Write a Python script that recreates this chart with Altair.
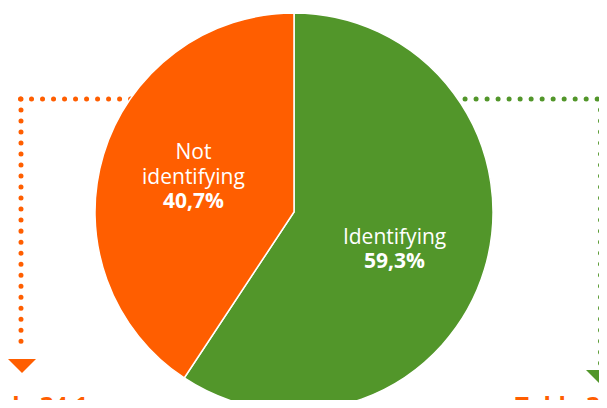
import altair as alt
import pandas as pd

categories = ["Identifying", "Not identifying"]
name_line1 = ["", "Not"]
name_line2 = ["Identifying", "identifying"]
values = [59.3, 40.7]
pct_labels = ["59,3%", "40,7%"]
colors = ["#52962A", "#FF5E00"]
table_labels = ["Table 34.1", "Table 34.2"]

df = pd.DataFrame({"category": categories, "l1": name_line1, "l2": name_line2,
                   "value": values, "pct": pct_labels})

FONT = "Open Sans"
CX, CY = 286, 204
R_LAB = 105
base = alt.Chart(df).encode(
    theta=alt.Theta("value:Q", stack=True),
    x=alt.value(CX), y=alt.value(CY),
    order=alt.Order("category:N"),
)

pie = base.mark_arc(outerRadius=199, stroke="white", strokeWidth=1.5).encode(
    color=alt.Color("category:N", scale=alt.Scale(domain=categories, range=colors), legend=None)
)

txt = dict(radius=R_LAB, baseline="middle", align="center", font=FONT, fontSize=21, color="white")
line1 = base.mark_text(dy=-29, **txt).encode(text="l1:N")
line2 = base.mark_text(dy=-4, **txt).encode(text="l2:N")
pcts = base.mark_text(dy=20, fontWeight="bold", **txt).encode(text="pct:N")

dot = dict(strokeDash=[0.01, 11], strokeCap="round", strokeWidth=5)
deco = pd.DataFrame({"k": [0]})
o_h = alt.Chart(deco).mark_rule(color=colors[1], **dot).encode(
    x=alt.value(12.5), x2=alt.value(200), y=alt.value(91))
o_v = alt.Chart(deco).mark_rule(color=colors[1], **dot).encode(
    x=alt.value(13), y=alt.value(91), y2=alt.value(340))
g_h = alt.Chart(deco).mark_rule(color=colors[0], **dot).encode(
    x=alt.value(380), x2=alt.value(593), y=alt.value(91))
g_v = alt.Chart(deco).mark_rule(color=colors[0], **dot).encode(
    x=alt.value(592.5), y=alt.value(91), y2=alt.value(361))

tri = "M-1,-0.5L1,-0.5L0,0.5Z"
o_t = alt.Chart(deco).mark_point(shape=tri, size=784, filled=True, opacity=1, color=colors[1]).encode(
    x=alt.value(14), y=alt.value(358))
g_t = alt.Chart(deco).mark_point(shape=tri, size=784, filled=True, opacity=1, color=colors[0]).encode(
    x=alt.value(592), y=alt.value(369))

t_l = alt.Chart(deco).mark_text(text=table_labels[0], align="right", baseline="alphabetic",
                                font=FONT, fontSize=24, fontWeight="bold", color="#FF5E00").encode(
    x=alt.value(80), y=alt.value(406))
t_r = alt.Chart(deco).mark_text(text=table_labels[1], align="left", baseline="alphabetic",
                                font=FONT, fontSize=24, fontWeight="bold", color="#FF5E00").encode(
    x=alt.value(507), y=alt.value(406))

chart = alt.layer(o_h, o_v, g_h, g_v, pie, line1, line2, pcts, o_t, g_t, t_l, t_r).properties(
    width=591, height=392, padding=0, autosize=alt.AutoSizeParams(type="none"),
    background="white"
).configure_view(stroke=None)

chart.save("out.html", embed_options={"renderer": "svg", "actions": False})
